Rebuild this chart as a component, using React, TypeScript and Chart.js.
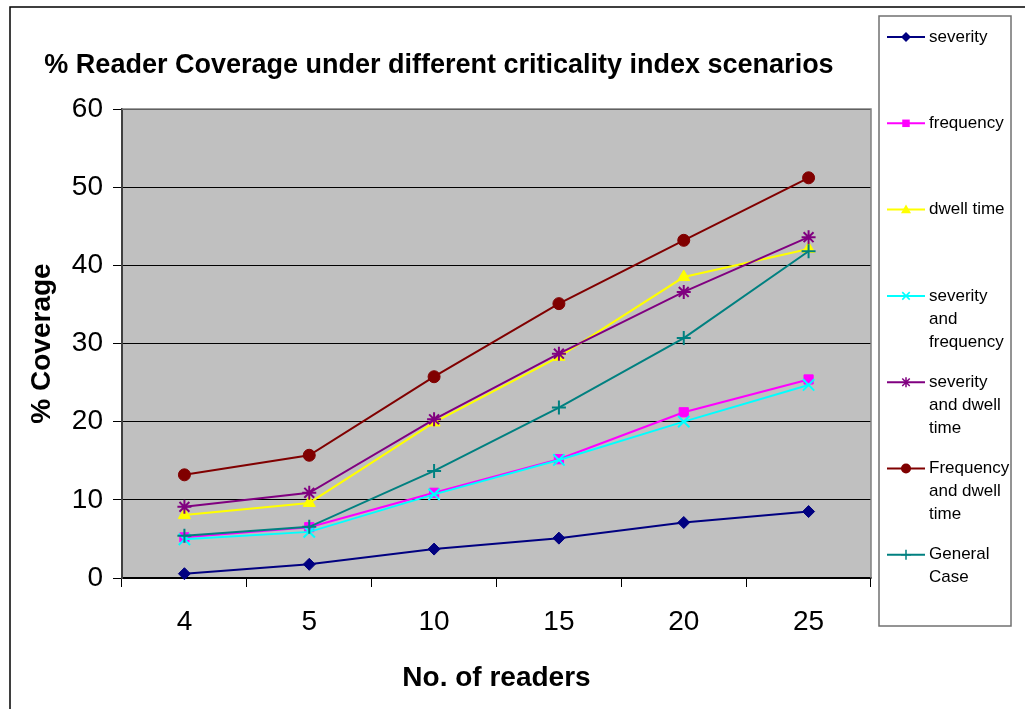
import React, { useEffect, useRef } from 'react';
import { Chart, registerables } from 'chart.js';

Chart.register(...registerables);

// ---- data ----
const categories = ['4', '5', '10', '15', '20', '25'];
const severity = [0.55, 1.75, 3.7, 5.1, 7.1, 8.5];
const frequency = [5.2, 6.5, 10.9, 15.2, 21.2, 25.4];
const dwellTime = [8.05, 9.6, 19.9, 28.3, 38.5, 42.1];
const severityAndFrequency = [4.95, 5.9, 10.7, 15.1, 20.0, 24.7];
const severityAndDwellTime = [9.1, 10.9, 20.3, 28.7, 36.6, 43.6];
const frequencyAndDwellTime = [13.2, 15.7, 25.75, 35.1, 43.2, 51.2];
const generalCase = [5.4, 6.55, 13.7, 21.8, 30.7, 41.8];

const seriesNames = [
  'severity',
  'frequency',
  'dwell time',
  'severity and frequency',
  'severity and dwell time',
  'Frequency and dwell time',
  'General Case',
];
const legendLines = [
  ['severity'],
  ['frequency'],
  ['dwell time'],
  ['severity', 'and', 'frequency'],
  ['severity', 'and dwell', 'time'],
  ['Frequency', 'and dwell', 'time'],
  ['General', 'Case'],
];
const yMin = 0;
const yMax = 60;
const yStep = 10;

const titleText = '% Reader Coverage under different criticality index scenarios';
const xTitle = 'No. of readers';
const yTitle = '% Coverage';

// ---- styles ----
const seriesValues = [
  severity,
  frequency,
  dwellTime,
  severityAndFrequency,
  severityAndDwellTime,
  frequencyAndDwellTime,
  generalCase,
];
const colors = ['#000080', '#FF00FF', '#FFFF00', '#00FFFF', '#800080', '#800000', '#008080'];
const styles = ['rectRot', 'rect', 'triangle', 'crossRot', 'star', 'circle', 'cross'];
const radii = [6, 6.5, 7, 8, 7, 6, 7];
const FONT = "'Liberation Sans', Arial, Helvetica, sans-serif";

function drawMarker(ctx: CanvasRenderingContext2D, style: string, x: number, y: number, r: number, color: string) {
  ctx.save();
  ctx.fillStyle = color;
  ctx.strokeStyle = color;
  ctx.lineWidth = 1.5;
  ctx.beginPath();
  switch (style) {
    case 'rectRot':
      ctx.moveTo(x, y - r);
      ctx.lineTo(x + r, y);
      ctx.lineTo(x, y + r);
      ctx.lineTo(x - r, y);
      ctx.closePath();
      ctx.fill();
      break;
    case 'rect':
      ctx.rect(x - r * 0.75, y - r * 0.75, r * 1.5, r * 1.5);
      ctx.fill();
      break;
    case 'triangle':
      ctx.moveTo(x, y - r);
      ctx.lineTo(x + r, y + r * 0.75);
      ctx.lineTo(x - r, y + r * 0.75);
      ctx.closePath();
      ctx.fill();
      break;
    case 'crossRot':
      ctx.moveTo(x - r * 0.75, y - r * 0.75);
      ctx.lineTo(x + r * 0.75, y + r * 0.75);
      ctx.moveTo(x + r * 0.75, y - r * 0.75);
      ctx.lineTo(x - r * 0.75, y + r * 0.75);
      ctx.stroke();
      break;
    case 'star':
      ctx.moveTo(x - r * 0.75, y - r * 0.75);
      ctx.lineTo(x + r * 0.75, y + r * 0.75);
      ctx.moveTo(x + r * 0.75, y - r * 0.75);
      ctx.lineTo(x - r * 0.75, y + r * 0.75);
      ctx.moveTo(x, y - r);
      ctx.lineTo(x, y + r);
      ctx.stroke();
      break;
    case 'circle':
      ctx.arc(x, y, r, 0, Math.PI * 2);
      ctx.fill();
      break;
    case 'cross':
      ctx.moveTo(x - r, y);
      ctx.lineTo(x + r, y);
      ctx.moveTo(x, y - r);
      ctx.lineTo(x, y + r);
      ctx.stroke();
      break;
  }
  ctx.restore();
}

export default function App() {
  const ref = useRef<HTMLCanvasElement>(null);

  useEffect(() => {
    const canvas = ref.current;
    if (!canvas) return;

    const decor = {
      id: 'decor',
      beforeDraw(chart: any) {
        const { ctx, chartArea: a } = chart;
        ctx.save();
        ctx.fillStyle = '#FFFFFF';
        ctx.fillRect(0, 0, chart.width, chart.height);
        ctx.fillStyle = '#C0C0C0';
        ctx.fillRect(a.left, a.top, a.right - a.left, a.bottom - a.top);
        ctx.restore();
      },
      afterDraw(chart: any) {
        const { ctx, chartArea: a } = chart;
        ctx.save();
        // plot border (top & right)
        ctx.strokeStyle = '#808080';
        ctx.lineWidth = 1.5;
        ctx.beginPath();
        ctx.moveTo(a.left, a.top);
        ctx.lineTo(a.right, a.top);
        ctx.lineTo(a.right, a.bottom);
        ctx.stroke();

        // outer chart border
        ctx.strokeStyle = '#000000';
        ctx.lineWidth = 1.5;
        ctx.strokeRect(10, 7, chart.width + 20, chart.height + 20);

        // title
        ctx.fillStyle = '#000000';
        ctx.textAlign = 'center';
        ctx.textBaseline = 'alphabetic';
        ctx.font = `bold 27px ${FONT}`;
        ctx.fillText(titleText, 439, 73);

        // x axis title
        ctx.font = `bold 28px ${FONT}`;
        ctx.fillText(xTitle, (a.left + a.right) / 2, 686);

        // y axis title
        ctx.save();
        ctx.translate(50, (a.top + a.bottom) / 2);
        ctx.rotate(-Math.PI / 2);
        ctx.fillText(yTitle, 0, 0);
        ctx.restore();

        // legend box
        const lx = 879, ly = 16, lw = 132, lh = 610;
        ctx.strokeStyle = '#707070';
        ctx.lineWidth = 1.5;
        ctx.strokeRect(lx, ly, lw, lh);
        ctx.font = `17px ${FONT}`;
        ctx.textAlign = 'left';
        ctx.textBaseline = 'middle';
        const step = 86.3;
        for (let i = 0; i < seriesNames.length; i++) {
          const y0 = 37 + i * step;
          ctx.strokeStyle = colors[i];
          ctx.lineWidth = 2;
          ctx.beginPath();
          ctx.moveTo(887, y0);
          ctx.lineTo(925, y0);
          ctx.stroke();
          drawMarker(ctx, styles[i], 906, y0, 5, colors[i]);
          ctx.fillStyle = '#000000';
          legendLines[i].forEach((line, j) => {
            ctx.fillText(line, 929, y0 + j * 23);
          });
        }
        ctx.restore();
      },
    };

    const chart = new Chart(canvas, {
      type: 'line',
      data: {
        labels: categories,
        datasets: seriesNames.map((name, i) => ({
          label: name,
          data: seriesValues[i],
          borderColor: colors[i],
          backgroundColor: colors[i],
          pointBackgroundColor: colors[i],
          pointBorderColor: colors[i],
          pointStyle: styles[i] as any,
          pointRadius: radii[i],
          pointBorderWidth: styles[i] === 'crossRot' || styles[i] === 'star' || styles[i] === 'cross' ? 2 : 1,
          borderWidth: 2,
          tension: 0,
          fill: false,
          clip: false as any,
          order: seriesNames.length - i,
        })),
      },
      options: {
        responsive: false,
        animation: false,
        events: [],
        layout: { padding: { top: 109, right: 154, left: 0, bottom: 0 } },
        plugins: {
          legend: { display: false },
          title: { display: false },
          tooltip: { enabled: false },
        },
        scales: {
          x: {
            type: 'category',
            offset: true,
            grid: {
              offset: true,
              drawOnChartArea: false,
              drawTicks: true,
              tickLength: 9,
              color: '#000000',
              lineWidth: 1,
            },
            border: { display: true, color: '#000000', width: 1.5 },
            ticks: {
              color: '#000000',
              font: { family: FONT, size: 28 },
              padding: 18,
              maxRotation: 0,
              autoSkip: false,
            },
            afterFit: (scale: any) => {
              scale.height = 131;
            },
          },
          y: {
            min: yMin,
            max: yMax,
            grid: {
              drawTicks: true,
              tickLength: 9,
              color: '#000000',
              lineWidth: 1,
            },
            border: { display: true, color: '#404040', width: 2 },
            ticks: {
              stepSize: yStep,
              color: '#000000',
              font: { family: FONT, size: 28 },
              padding: 10,
            },
            afterFit: (scale: any) => {
              scale.width = 122;
            },
          },
        },
      },
      plugins: [decor],
    });

    return () => chart.destroy();
  }, []);

  return (
    <div style={{ position: 'absolute', left: 0, top: 0, width: 1025, height: 709 }}>
      <canvas ref={ref} width={1025} height={709} style={{ display: 'block', width: 1025, height: 709 }} />
    </div>
  );
}
